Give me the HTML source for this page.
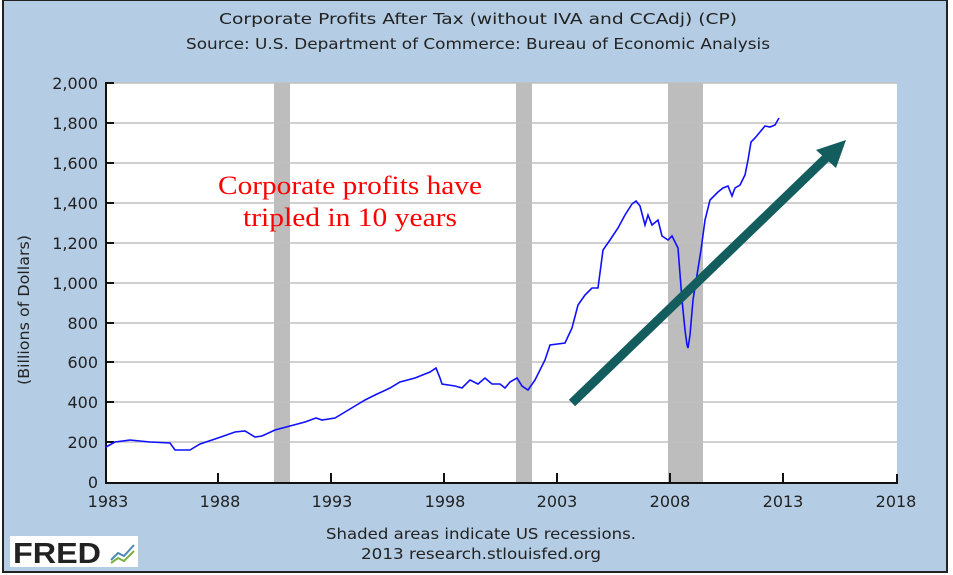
<!DOCTYPE html>
<html><head><meta charset="utf-8"><style>
body{margin:0;background:#fff}
svg{display:block}
</style></head><body>
<svg width="953" height="575" xmlns="http://www.w3.org/2000/svg" font-family="DejaVu Sans, sans-serif">
<rect x="0" y="0" width="953" height="575" fill="#fff"/>
<rect x="3" y="0" width="944" height="572" fill="#b4cde5" stroke="#222" stroke-width="2"/>
<text x="478" y="24" font-size="15.5" text-anchor="middle" fill="#222" textLength="518" lengthAdjust="spacingAndGlyphs">Corporate Profits After Tax (without IVA and CCAdj) (CP)</text>
<text x="478" y="49" font-size="15.5" text-anchor="middle" fill="#222" textLength="584" lengthAdjust="spacingAndGlyphs">Source: U.S. Department of Commerce: Bureau of Economic Analysis</text>
<rect x="106" y="83" width="791" height="399" fill="#fff"/>
<rect x="274" y="83" width="16" height="399" fill="#bdbdbd"/>
<rect x="516" y="83" width="16" height="399" fill="#bdbdbd"/>
<rect x="668" y="83" width="35" height="399" fill="#bdbdbd"/>
<g stroke="#c0c0c0" stroke-width="1.5">
<line x1="106" x2="897" y1="123" y2="123"/><line x1="106" x2="897" y1="163" y2="163"/>
<line x1="106" x2="897" y1="203" y2="203"/><line x1="106" x2="897" y1="243" y2="243"/>
<line x1="106" x2="897" y1="283" y2="283"/><line x1="106" x2="897" y1="323" y2="323"/>
<line x1="106" x2="897" y1="362" y2="362"/><line x1="106" x2="897" y1="402" y2="402"/>
<line x1="106" x2="897" y1="442" y2="442"/><line x1="106" x2="897" y1="83" y2="83"/>
</g>
<g stroke="#111" stroke-width="2" fill="none">
<path d="M106 82V483H897V474"/>
<path d="M106 83h8M106 123h8M106 163h8M106 203h8M106 243h8M106 283h8M106 323h8M106 362h8M106 402h8M106 442h8"/>
<path d="M218 482v-9M331 482v-9M444 482v-9M557 482v-9M670 482v-9M783 482v-9"/>
</g>
<g font-size="16" fill="#222" text-anchor="end">
<text x="98" y="89">2,000</text><text x="98" y="129">1,800</text><text x="98" y="169">1,600</text>
<text x="98" y="209">1,400</text><text x="98" y="249">1,200</text><text x="98" y="289">1,000</text>
<text x="98" y="329">800</text><text x="98" y="368">600</text><text x="98" y="408">400</text>
<text x="98" y="448">200</text><text x="98" y="488">0</text>
</g>
<g font-size="16" fill="#222" text-anchor="middle">
<text x="108" y="507">1983</text><text x="220" y="507">1988</text><text x="332" y="507">1993</text>
<text x="445" y="507">1998</text><text x="557" y="507">2003</text><text x="670" y="507">2008</text>
<text x="783" y="507">2013</text><text x="896" y="507">2018</text>
<text x="481" y="539" font-size="15.5" textLength="310" lengthAdjust="spacingAndGlyphs">Shaded areas indicate US recessions.</text>
<text x="481" y="559" font-size="15.5" textLength="240" lengthAdjust="spacingAndGlyphs">2013 research.stlouisfed.org</text>
</g>
<text transform="translate(29,310) rotate(-90)" font-size="15" fill="#222" text-anchor="middle" textLength="150" lengthAdjust="spacingAndGlyphs">(Billions of Dollars)</text>
<polyline fill="none" stroke="#1010ff" stroke-width="1.6" points="106,447 115,442 130,440 150,442 170,443 175,450 190,450 200,444 218,438 235,432 245,431 255,437 262,436 275,430 290,426 305,422 316,418 322,420 335,418 345,412 355,406 365,400 375,395 390,388 400,382 415,378 430,372 436,368 440,378 442,384 455,386 462,388 470,380 478,384 485,378 492,384 500,384 505,388 510,382 517,378 522,386 528,390 535,380 545,360 550,345 565,343 572,328 578,305 585,295 592,288 598,288 603,250 610,240 618,228 625,215 632,204 636,201 640,206 645,225 648,215 652,225 658,220 662,236 668,240 672,236 678,248 682,300 685,330 687,345 688,348 690,335 693,300 697,275 701,250 705,220 710,200 715,195 718,192 723,188 728,186 732,196 735,188 740,185 745,175 748,160 751,142 755,138 760,132 765,126 770,127 775,125 779,118"/>
<line x1="572" y1="403" x2="827" y2="157" stroke="#145d5f" stroke-width="9"/>
<polygon points="846,140 816,150 836,168" fill="#145d5f"/>
<text x="350" y="194" font-family="Liberation Serif, serif" font-size="26" fill="#ff0000" text-anchor="middle" textLength="264" lengthAdjust="spacingAndGlyphs">Corporate profits have</text>
<text x="350" y="226" font-family="Liberation Serif, serif" font-size="26" fill="#ff0000" text-anchor="middle" textLength="214" lengthAdjust="spacingAndGlyphs">tripled in 10 years</text>
<rect x="10" y="536" width="128" height="31" fill="#fff"/>
<text x="13" y="563" font-family="Liberation Sans, sans-serif" font-weight="bold" font-size="29" fill="#222" textLength="88" lengthAdjust="spacingAndGlyphs">FRED</text>
<polyline points="111,560 118,553 124,556 134,545" fill="none" stroke="#4a8ab8" stroke-width="2"/>
<polyline points="111,563 118,558 124,561 134,551" fill="none" stroke="#7ab040" stroke-width="2"/>
</svg>
</body></html>
